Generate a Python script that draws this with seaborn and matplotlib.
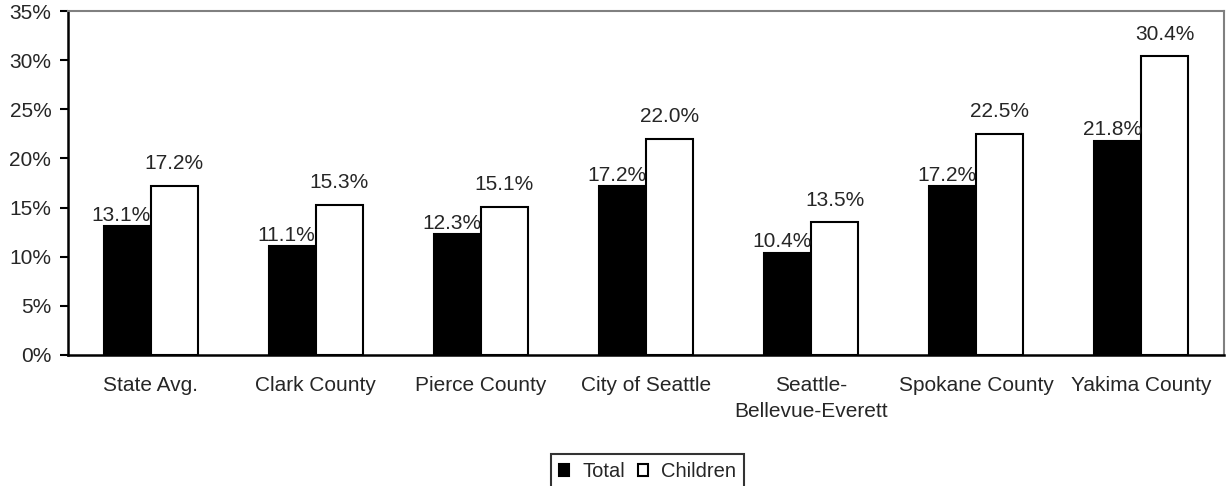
import numpy as np
import pandas as pd
import matplotlib
matplotlib.use("Agg")
import matplotlib.pyplot as plt
from matplotlib.ticker import PercentFormatter, FixedLocator
import seaborn as sns

# data
places = ["State Avg.", "Clark County", "Pierce County", "City of Seattle",
          "Seattle-\nBellevue-Everett", "Spokane County", "Yakima County"]
total = [13.1, 11.1, 12.3, 17.2, 10.4, 17.2, 21.8]
children = [17.2, 15.3, 15.1, 22.0, 13.5, 22.5, 30.4]
series = ["Total", "Children"]

df = pd.DataFrame({"place": places * 2,
                   "group": ["Total"] * len(places) + ["Children"] * len(places),
                   "rate": total + children})

sns.set_style("white")
plt.rcParams["font.family"] = ["Liberation Sans", "DejaVu Sans"]

fig = plt.figure(figsize=(12.28, 4.86), dpi=100)
ax = fig.add_axes([68 / 1228, 1 - 355 / 486, (1224 - 68) / 1228, (355 - 11) / 486])

sns.barplot(data=df, x="place", y="rate", hue="group", hue_order=series,
            palette=["black", "white"], edgecolor="black", linewidth=1.5,
            width=0.57, gap=0, ax=ax, legend=True)

# value labels
for cont, name in zip(ax.containers, series):
    pad = 1 if name == "Total" else 9
    anns = ax.bar_label(cont, labels=[f"{v:.1f}%" for v in cont.datavalues],
                        padding=pad, fontsize=15)
    if name == "Total":
        for a in anns:
            a.xyann = (-4, pad)

ax.set_ylim(0, 35)
ax.set_xlim(-0.5, len(places) - 0.5)
ax.yaxis.set_major_locator(FixedLocator(np.arange(0, 36, 5)))
ax.yaxis.set_major_formatter(PercentFormatter(decimals=0))
ax.set_xlabel("")
ax.set_ylabel("")

ax.xaxis.set_minor_locator(FixedLocator(np.arange(-0.5, len(places), 1)))
ax.tick_params(axis="x", which="major", length=0, pad=15, labelsize=15)
ax.tick_params(axis="x", which="minor", length=6, width=1.5, color="black", direction="out")
ax.tick_params(axis="y", length=6, width=1.5, color="black", direction="out",
               left=True, labelsize=15, pad=6)
for t in ax.get_xticklabels():
    t.set_linespacing(1.45)

for side in ["left", "bottom"]:
    ax.spines[side].set_color("black")
    ax.spines[side].set_linewidth(1.8)
for side in ["top", "right"]:
    ax.spines[side].set_visible(True)
    ax.spines[side].set_color("#808080")
    ax.spines[side].set_linewidth(1.5)

ax.get_legend().remove()
handles, labels = ax.get_legend_handles_labels()
leg = fig.legend(handles, labels, loc="upper left", bbox_to_anchor=(551 / 1228, 1 - 454 / 486),
                 ncol=2, fontsize=14.5, frameon=True, fancybox=False,
                 handlelength=0.5, handleheight=0.5, handletextpad=0.65,
                 columnspacing=0.65, borderpad=0.4, borderaxespad=0)
leg.get_frame().set_edgecolor("black")
leg.get_frame().set_linewidth(1.5)

fig.savefig("out.png", dpi=100)
